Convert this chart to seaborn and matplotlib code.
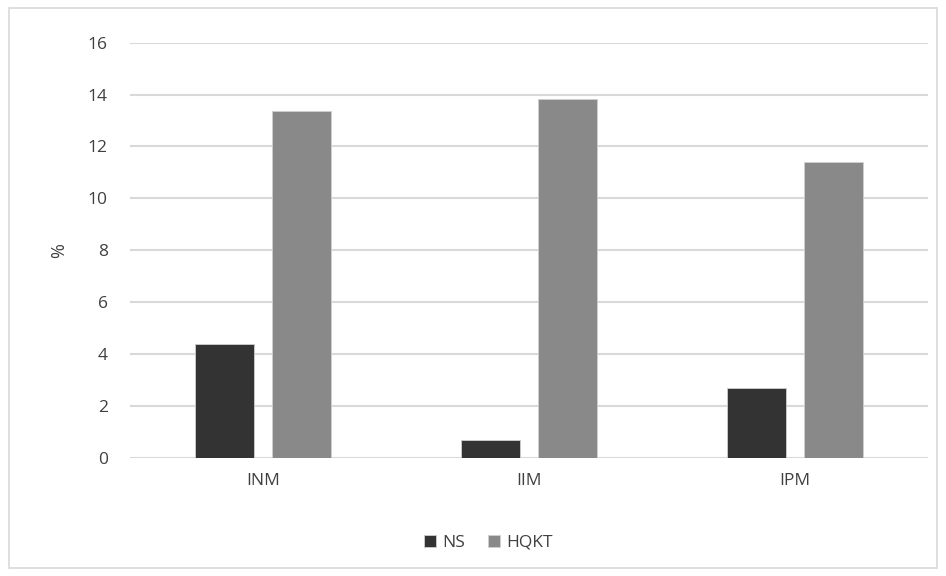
import numpy as np
import pandas as pd
import matplotlib.pyplot as plt
import seaborn as sns
from matplotlib.patches import FancyBboxPatch

#%% Datos
categorias = ["INM", "IIM", "IPM"]
series = ["NS", "HQKT"]
valores_ns = [4.37, 0.67, 2.7]
valores_hqkt = [13.38, 13.82, 11.4]

datos = pd.DataFrame({
    "categoria": categorias * 2,
    "serie": ["NS"] * 3 + ["HQKT"] * 3,
    "valor": valores_ns + valores_hqkt,
})

#%% Grafico
sns.set_style("white")
plt.rcParams["font.family"] = ["Open Sans", "DejaVu Sans"]

fig = plt.figure(figsize=(9.46, 5.76), dpi=100)
ax = fig.add_axes([0.1374, 0.2054, 0.8436, 0.7205])

sns.barplot(data=datos, x="categoria", y="valor", hue="serie",
            order=categorias, hue_order=series,
            palette={"NS": "#333333", "HQKT": "#898989"},
            width=0.575, gap=0.23, edgecolor="#d0d0d0", linewidth=0.6,
            ax=ax, zorder=3)

ax.set_ylim(0, 16)
ax.set_yticks(range(0, 17, 2))
ax.yaxis.grid(True, color="#d9d9d9", linewidth=1.5, zorder=0)
ax.set_axisbelow(True)
for s in ax.spines.values():
    s.set_visible(False)
ax.tick_params(axis="both", length=0, labelsize=12.5, colors="#404040")
ax.tick_params(axis="x", pad=11)
ax.tick_params(axis="y", pad=16)
ax.set_xlabel("")
ax.set_ylabel("%", fontsize=13, color="#404040", labelpad=14)

ax.get_legend().remove()
handles, labels = ax.get_legend_handles_labels()
leg = fig.legend(handles, labels, loc="center", bbox_to_anchor=(0.516, 0.058),
                 ncol=2, frameon=False, fontsize=12.5, handlelength=0.7,
                 handleheight=0.7, handletextpad=0.35, columnspacing=1.3)
for t in leg.get_texts():
    t.set_color("#404040")

marco = FancyBboxPatch((0.009, 0.014), 0.982, 0.972, transform=fig.transFigure,
                       boxstyle="square,pad=0", fill=False,
                       edgecolor="#d9d9d9", linewidth=1.2)
fig.patches.append(marco)

fig.savefig("out.png", dpi=100)
